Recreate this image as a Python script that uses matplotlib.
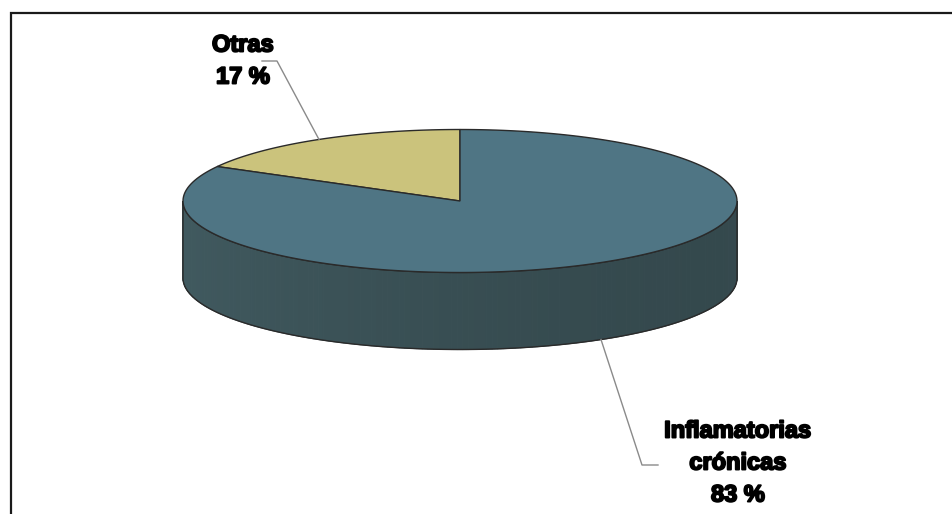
import numpy as np
import matplotlib.pyplot as plt
from matplotlib.colors import to_rgb
from matplotlib.patches import Polygon
import matplotlib.patheffects as pe

# Data
labels = ["Otras", "Inflamatorias\ncrónicas"]
values = [17, 83]

# Colours: top face and side face for each slice
top_colors = ["#cbc37c", "#4f7584"]
side_colors = ["#8f8a55", "#3b5257"]

# Pie geometry in pixel coordinates
CX, CY = 460, 201
RX, RY = 277, 71.5
DEPTH = 77
START_ANGLE = 90

# Label placement (centre x, first line y) and leader elbows
label_xy = [(243, 45), (738, 431)]
leader_elbow = [((277, 61), (262, 61)), ((642, 465), (658, 465))]
LINE_STEP = 32


def ellipse_pts(t0, t1, dy=0.0, n=200):
    t = np.radians(np.linspace(t0, t1, n))
    return np.column_stack([CX + RX * np.cos(t), CY - RY * np.sin(t) + dy])


fig = plt.figure(figsize=(9.52, 5.14), dpi=100)
ax = fig.add_axes([0, 0, 1, 1])
ax.set_xlim(0, 952)
ax.set_ylim(514, 0)
ax.axis("off")

# Frame (only left and top edges show)
ax.plot([11, 11, 952], [514, 13, 13], color="#1a1a1a", lw=1.6, solid_joinstyle="miter")

fracs = np.array(values) / sum(values)
bounds = START_ANGLE + 360 * np.concatenate([[0], np.cumsum(fracs)])

# Side walls: only the front half (180..360 deg) is visible
for i in range(len(values)):
    a0, a1 = bounds[i], bounds[i + 1]
    base = np.array(to_rgb(side_colors[i]))
    for shift in (0, 360):
        lo = max(a0, 180 + shift)
        hi = min(a1, 360 + shift)
        if hi <= lo:
            continue
        steps = np.linspace(lo, hi, 150)
        for s0, s1 in zip(steps[:-1], steps[1:]):
            mid = np.radians((s0 + s1) / 2)
            # slightly lighter toward the left, darker in front
            shade = 1.0 + 0.10 * (-np.cos(mid)) - 0.05 * (-np.sin(mid))
            c = np.clip(base * shade, 0, 1)
            top = ellipse_pts(s0, s1, n=3)
            bot = ellipse_pts(s1, s0, dy=DEPTH, n=3)
            ax.add_patch(Polygon(np.vstack([top, bot]), closed=True,
                                 facecolor=c, edgecolor=c, lw=0.8))
        outline = np.vstack([ellipse_pts(lo, hi), ellipse_pts(hi, lo, dy=DEPTH)])
        ax.add_patch(Polygon(outline, closed=True, fill=False,
                             edgecolor="#2a2a2a", lw=1.0))

# Top face wedges
for i in range(len(values)):
    pts = np.vstack([[CX, CY], ellipse_pts(bounds[i], bounds[i + 1])])
    ax.add_patch(Polygon(pts, closed=True, facecolor=top_colors[i],
                         edgecolor="#2a2a2a", lw=1.0))

# Labels with leader lines from each wedge's mid-angle
for i, (lab, val) in enumerate(zip(labels, values)):
    mid = np.radians((bounds[i] + bounds[i + 1]) / 2)
    ax_x = CX + RX * np.cos(mid)
    ax_y = CY - RY * np.sin(mid) + (DEPTH if np.sin(mid) < 0 else 0)
    (ex, ey), (fx, fy) = leader_elbow[i]
    ax.plot([ax_x, ex, fx], [ax_y, ey, fy], color="#8a8a8a", lw=1.0)

    lines = lab.split("\n") + [f"{val} %"]
    x0, y0 = label_xy[i]
    for k, line in enumerate(lines):
        ax.text(x0, y0 + k * LINE_STEP, line, ha="center", va="center",
                fontsize=17, fontweight="bold", family="Liberation Sans",
                color="black",
                path_effects=[pe.withStroke(linewidth=1.4, foreground="black")])

fig.savefig("out.png", dpi=100)
